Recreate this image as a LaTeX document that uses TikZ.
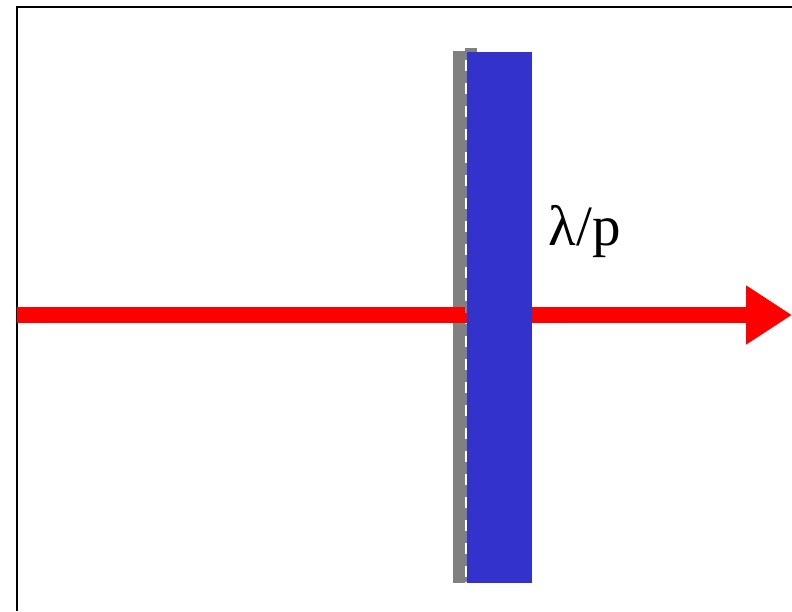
\documentclass[tikz,border=0pt]{standalone}
\usepackage{fontspec}
\setmainfont{Liberation Serif}
\usetikzlibrary{arrows.meta}
\definecolor{plateblue}{RGB}{51,51,204}
\definecolor{beamred}{RGB}{255,0,0}
\definecolor{mirrorgray}{RGB}{128,128,128}
\tikzset{
  frameline/.style={draw=black,line width=2pt},
  graybar/.style={fill=mirrorgray,draw=none,inner sep=0pt,minimum width=12pt,minimum height=532pt},
  bluebox/.style={fill=plateblue,draw=none,inner sep=0pt,minimum width=65pt,minimum height=531pt},
  beam/.style={draw=beamred,line width=16pt,-{Triangle[length=46pt,width=56pt]}},
  dashline/.style={draw=mirrorgray,line width=12pt,dash pattern=on 12pt off 11pt},
  lbl/.style={font=\fontsize{57}{60}\selectfont,inner sep=0pt}
}
\begin{document}
\begin{tikzpicture}[x=1pt,y=1pt]
\useasboundingbox (0,0) rectangle (792,611);
\fill[white] (0,0) rectangle (792,611);
\draw[frameline] (17,0) -- (17,604) -- (800,604);
\node[graybar] (mirror) at (459,294) {};
\coordinate (beamstart) at (17,296);
\coordinate (beamend) at (792,296);
\draw[beam] (beamstart) -- (beamend);
\coordinate (dtop) at (471,563);
\coordinate (dbot) at (471,29);
\draw[dashline] (dtop) -- (dbot);
\node[bluebox] (plate) at (499.5,293.5) {};
\node[lbl] (label) at (584.5,379) {λ/p};
\end{tikzpicture}
\end{document}
